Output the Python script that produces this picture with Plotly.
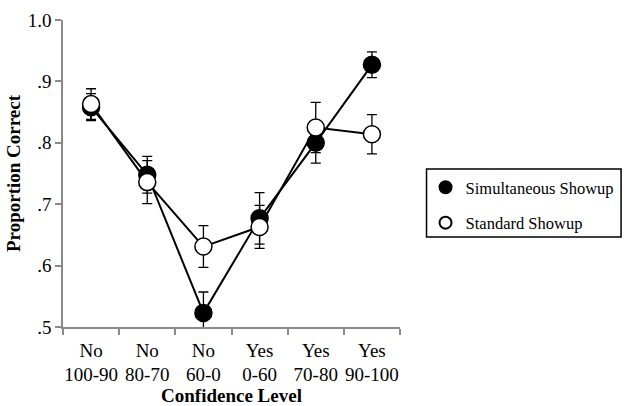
import plotly.graph_objects as go

# Confidence bins (decision + confidence range)
categories = ["No<br>100-90", "No<br>80-70", "No<br>60-0", "Yes<br>0-60", "Yes<br>70-80", "Yes<br>90-100"]

# Proportion correct per bin, with error-bar half widths
simultaneous = [0.858, 0.748, 0.523, 0.677, 0.800, 0.927]
simultaneous_err = [0.022, 0.030, 0.034, 0.042, 0.033, 0.021]
standard = [0.863, 0.736, 0.631, 0.663, 0.825, 0.814]
standard_err = [0.025, 0.035, 0.034, 0.035, 0.041, 0.032]

y_ticks = [0.5, 0.6, 0.7, 0.8, 0.9, 1.0]
y_tick_text = [".5", ".6", ".7", ".8", ".9", "1.0"]

FONT = "Times New Roman"
AXIS_GREY = "#8a8a8a"

fig = go.Figure()

series = [
    ("Simultaneous Showup", simultaneous, simultaneous_err, "black"),
    ("Standard Showup", standard, standard_err, "white"),
]

for name, values, errors, fill in series:
    # connecting line (kept out of the legend so the key shows only the marker)
    fig.add_trace(go.Scatter(
        x=categories, y=values, name=name, legendgroup=name,
        mode="lines", showlegend=False, hoverinfo="skip",
        line=dict(color="black", width=2),
    ))
    fig.add_trace(go.Scatter(
        x=categories, y=values, name=name, legendgroup=name,
        mode="markers",
        marker=dict(symbol="circle", size=17, color=fill, line=dict(color="black", width=1.5)),
        error_y=dict(type="data", array=errors, color="black", thickness=1.3, width=5),
    ))

fig.update_layout(
    width=632, height=406,
    margin=dict(l=63, r=226, t=20, b=79),
    paper_bgcolor="white", plot_bgcolor="white",
    font=dict(family=FONT, size=19, color="black"),
    showlegend=True,
    legend=dict(
        x=(432 - 63) / 343, y=(327 - 170) / 307, xanchor="left", yanchor="top",
        font=dict(family=FONT, size=16.5, color="black"),
        itemsizing="constant", tracegroupgap=11,
        bgcolor="rgba(0,0,0,0)", borderwidth=0,
    ),
    shapes=[dict(
        type="rect", xref="paper", yref="paper",
        x0=(433 - 63) / 343, x1=(631 - 63) / 343,
        y0=(327 - 237) / 307, y1=(327 - 169) / 307,
        line=dict(color="black", width=1.5), fillcolor="rgba(0,0,0,0)",
    )],
)

fig.update_xaxes(
    type="category", range=[-0.5, 5.5], automargin=False,
    showline=True, linecolor=AXIS_GREY, linewidth=1.5,
    ticks="outside", tickson="boundaries", ticklen=6, tickcolor=AXIS_GREY, tickwidth=1.5,
    showgrid=False, zeroline=False, tickangle=0, ticklabelstandoff=5,
    tickfont=dict(family=FONT, size=19),
    title=dict(text="<b>Confidence Level</b>", font=dict(family=FONT, size=19), standoff=4),
)

fig.update_yaxes(
    range=[0.5, 1.0], automargin=False,
    tickvals=y_ticks, ticktext=y_tick_text,
    showline=True, linecolor=AXIS_GREY, linewidth=1.5,
    ticks="outside", ticklen=6, tickcolor=AXIS_GREY, tickwidth=1.5,
    showgrid=False, zeroline=False,
    tickfont=dict(family=FONT, size=19),
    title=dict(text="<b>Proportion Correct</b>", font=dict(family=FONT, size=19), standoff=2),
)

fig.write_html("out.html")
